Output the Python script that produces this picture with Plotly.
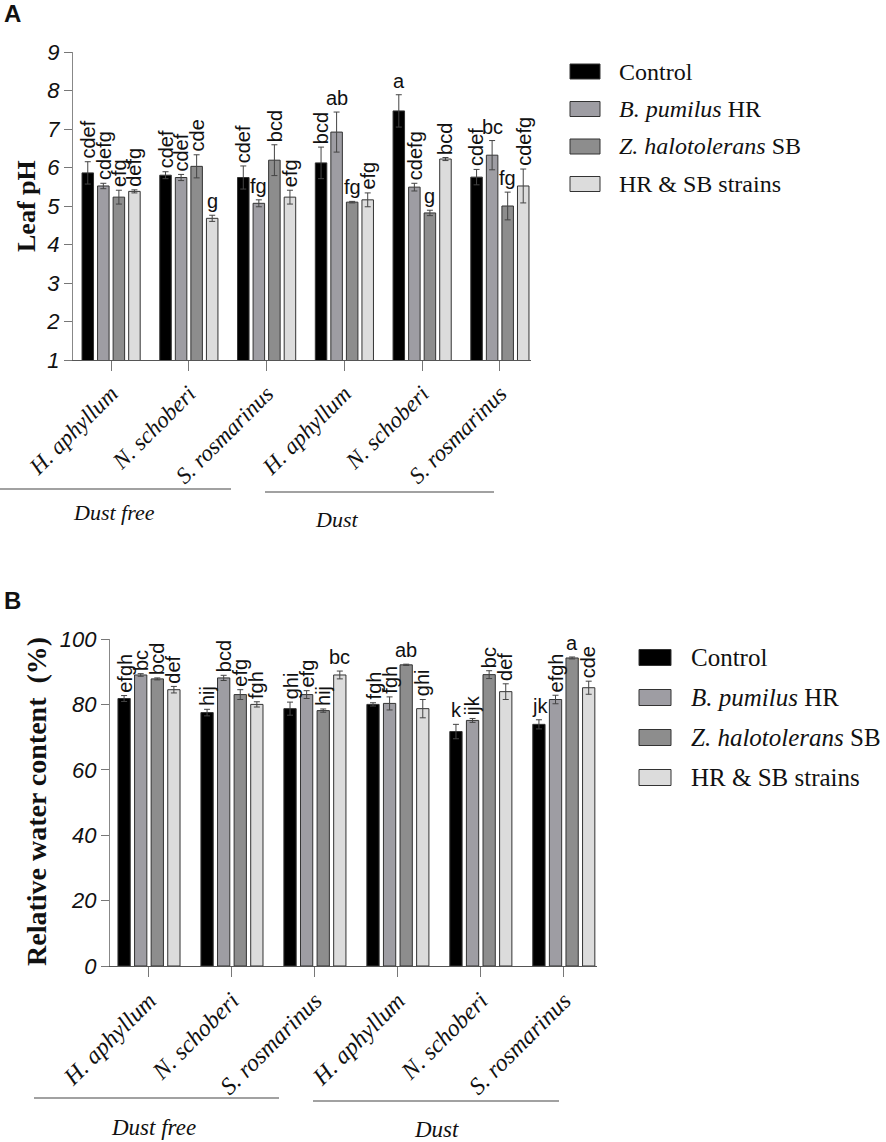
import plotly.graph_objects as go

# Leaf pH and relative water content of three shrubs, dust free vs dust
plants = ["H. aphyllum", "N. schoberi", "S. rosmarinus",
          "H. aphyllum", "N. schoberi", "S. rosmarinus"]
treatments = ["Control", "<i>B. pumilus</i> HR",
              "<i>Z. halotolerans</i> SB", "HR & SB strains"]
colors = ["#000000", "#9e9da3", "#8d8d8d", "#dcdcdc"]

# Panel A - leaf pH
ph_control = [5.86, 5.80, 5.74, 6.12, 7.47, 5.75]
ph_pumilus = [5.52, 5.74, 5.07, 6.92, 5.49, 6.32]
ph_halo = [5.23, 6.03, 6.19, 5.10, 4.82, 5.00]
ph_mix = [5.38, 4.68, 5.23, 5.16, 6.22, 5.52]
ph_control_err = [0.29, 0.09, 0.30, 0.41, 0.42, 0.20]
ph_pumilus_err = [0.07, 0.08, 0.09, 0.52, 0.10, 0.38]
ph_halo_err = [0.18, 0.30, 0.40, 0.02, 0.07, 0.36]
ph_mix_err = [0.04, 0.08, 0.18, 0.18, 0.04, 0.44]
ph_control_lab = ["cdef", "cdef", "cdef", "bcd", "a", "cdef"]
ph_pumilus_lab = ["cdefg", "cdef", "fg", "ab", "cdefg", "bc"]
ph_halo_lab = ["efg", "cde", "bcd", "fg", "g", "fg"]
ph_mix_lab = ["defg", "g", "efg", "efg", "bcd", "cdefg"]

# Panel B - relative water content (%)
rwc_control = [81.8, 77.5, 78.7, 80.0, 71.7, 73.9]
rwc_pumilus = [89.0, 88.1, 83.0, 80.3, 75.1, 81.5]
rwc_halo = [87.8, 83.0, 78.1, 92.1, 89.1, 94.2]
rwc_mix = [84.5, 80.0, 89.0, 78.7, 83.9, 85.1]
rwc_control_err = [0.9, 1.0, 2.0, 0.5, 2.2, 1.4]
rwc_pumilus_err = [0.4, 0.8, 1.2, 2.0, 0.6, 1.3]
rwc_halo_err = [0.3, 1.5, 0.5, 0.2, 1.2, 0.3]
rwc_mix_err = [1.0, 0.8, 1.2, 2.8, 2.4, 2.0]
rwc_control_lab = ["efgh", "hij", "ghi", "fgh", "k", "jk"]
rwc_pumilus_lab = ["bc", "bcd", "efg", "fgh", "ijk", "efgh"]
rwc_halo_lab = ["bcd", "efg", "hij", "ab", "bc", "a"]
rwc_mix_lab = ["def", "fgh", "bc", "ghi", "def", "cde"]

# short letters that are still drawn rotated in panel B: (group, treatment)
rotated_short_b = {(0, 1), (4, 2)}

W, H = 886, 1142
SERIF = "Liberation Serif"
SANS = "Liberation Sans"


def px(x):
    return x / W


def py(y):
    return 1 - y / H


fig = go.Figure()

panels = [
    dict(name="A", xa="x", ya="y", bargap=0.2,
         # legend box: swatch left/right, first row centre, row step, text x, font, swatch h
         leg=(570, 600, 71.5, 37.5, 617, 24, 15),
         vals=[ph_control, ph_pumilus, ph_halo, ph_mix],
         errs=[ph_control_err, ph_pumilus_err, ph_halo_err, ph_mix_err],
         labs=[ph_control_lab, ph_pumilus_lab, ph_halo_lab, ph_mix_lab]),
    dict(name="B", xa="x2", ya="y2", bargap=0.22,
         leg=(639, 671, 657.5, 40, 689, 25, 16),
         vals=[rwc_control, rwc_pumilus, rwc_halo, rwc_mix],
         errs=[rwc_control_err, rwc_pumilus_err, rwc_halo_err, rwc_mix_err],
         labs=[rwc_control_lab, rwc_pumilus_lab, rwc_halo_lab, rwc_mix_lab]),
]

xs = list(range(len(plants)))
annotations = []
shapes = []

for p in panels:
    for k, name in enumerate(treatments):
        fig.add_trace(go.Bar(
            x=xs, y=p["vals"][k], name=name, showlegend=False,
            xaxis=p["xa"], yaxis=p["ya"], offsetgroup=str(k),
            marker=dict(color=colors[k], line=dict(color="#333333", width=1)),
            error_y=dict(type="data", array=p["errs"][k], color="#444444",
                         thickness=1, width=3),
        ))
    # letters above the error bars
    g = p["bargap"]
    slot = (1 - g) / 4
    for k in range(4):
        for i in xs:
            lab = p["labs"][k][i]
            top = p["vals"][k][i] + p["errs"][k][i]
            rotated = len(lab) > 2 or (p["name"] == "B" and (i, k) in rotated_short_b)
            annotations.append(dict(
                x=i - (1 - g) / 2 + (k + 0.5) * slot, y=top,
                xref=p["xa"], yref=p["ya"], text=lab, showarrow=False,
                textangle=-90 if rotated else 0,
                xanchor="center", yanchor="bottom", yshift=1,
                font=dict(family=SANS, size=20, color="#111111"),
            ))
    # legend with wide swatches like the original
    sx0, sx1, ry0, step, tx, fs, sh = p["leg"]
    for k, name in enumerate(treatments):
        cy = ry0 + k * step
        shapes.append(dict(type="rect", xref="paper", yref="paper",
                           x0=px(sx0), x1=px(sx1),
                           y0=py(cy + sh / 2), y1=py(cy - sh / 2),
                           fillcolor=colors[k],
                           line=dict(color="#333333", width=1)))
        annotations.append(dict(x=px(tx), y=py(cy), xref="paper", yref="paper",
                                text=name, showarrow=False, xanchor="left",
                                yanchor="middle",
                                font=dict(family=SERIF, size=fs, color="#111111")))

axis_common = dict(showline=True, linecolor="#555555", linewidth=1.2,
                   ticks="outside", tickcolor="#777777", showgrid=False,
                   zeroline=False, automargin=False)

fig.update_layout(
    width=W, height=H,
    margin=dict(l=0, r=0, t=0, b=0, pad=0, autoexpand=False),
    paper_bgcolor="white", plot_bgcolor="white",
    barmode="group", bargroupgap=0.26, showlegend=False,
    xaxis=dict(axis_common, domain=[px(73), px(531)], anchor="y",
               range=[-0.49, 5.4], tickvals=xs, ticktext=plants,
               tickangle=-45, ticklen=10, tickwidth=1.2,
               tickfont=dict(family=SERIF, size=23, color="#111111",
                             style="italic")),
    yaxis=dict(axis_common, domain=[py(360), py(52)], anchor="x",
               range=[1, 9], dtick=1, ticklen=8, linecolor="#888888",
               tickfont=dict(family=SANS, size=22, color="#111111",
                             style="italic")),
    xaxis2=dict(axis_common, domain=[px(110), px(597)], anchor="y2",
                range=[-0.47, 5.4], tickvals=xs, ticktext=plants,
                tickangle=-45, ticklen=10, tickwidth=1.2,
                tickfont=dict(family=SERIF, size=24, color="#111111",
                              style="italic")),
    yaxis2=dict(axis_common, domain=[py(966), py(639)], anchor="x2",
                range=[0, 100], dtick=20, ticklen=8, linecolor="#888888",
                tickfont=dict(family=SANS, size=22, color="#111111",
                              style="italic")),
)

# panel letters, axis titles, group captions
extra = [
    dict(x=px(2), y=py(14), text="<b>A</b>", font=dict(family=SANS, size=24)),
    dict(x=px(2), y=py(600), text="<b>B</b>", font=dict(family=SANS, size=24)),
    dict(x=px(27), y=py(206), text="<b>Leaf pH</b>", textangle=-90,
         xanchor="center", font=dict(family=SERIF, size=26)),
    dict(x=px(36), y=py(802), text="<b>Relative water content  (%)</b>",
         textangle=-90, xanchor="center", font=dict(family=SERIF, size=28)),
    dict(x=px(114), y=py(512), text="<i>Dust free</i>", xanchor="center",
         font=dict(family=SERIF, size=22)),
    dict(x=px(336), y=py(520), text="<i>Dust</i>", xanchor="center",
         font=dict(family=SERIF, size=22)),
    dict(x=px(153), y=py(1127), text="<i>Dust free</i>", xanchor="center",
         font=dict(family=SERIF, size=23)),
    dict(x=px(436), y=py(1129), text="<i>Dust</i>", xanchor="center",
         font=dict(family=SERIF, size=23)),
]
for a in extra:
    a.update(xref="paper", yref="paper", showarrow=False, yanchor="middle")
    a.setdefault("xanchor", "left")
    a["font"]["color"] = "#111111"
annotations += extra

line_style = dict(color="#444444", width=1.2)
for x0, x1, y in [(0, 231, 489), (265, 494, 492), (34, 279, 1098), (313, 559, 1101)]:
    shapes.append(dict(type="line", xref="paper", yref="paper",
                       x0=px(x0), x1=px(x1), y0=py(y), y1=py(y), line=line_style))

fig.update_layout(annotations=annotations, shapes=shapes)

fig.write_html("out.html", config={"displayModeBar": False},
               post_script="document.body.style.margin = '0px';")
